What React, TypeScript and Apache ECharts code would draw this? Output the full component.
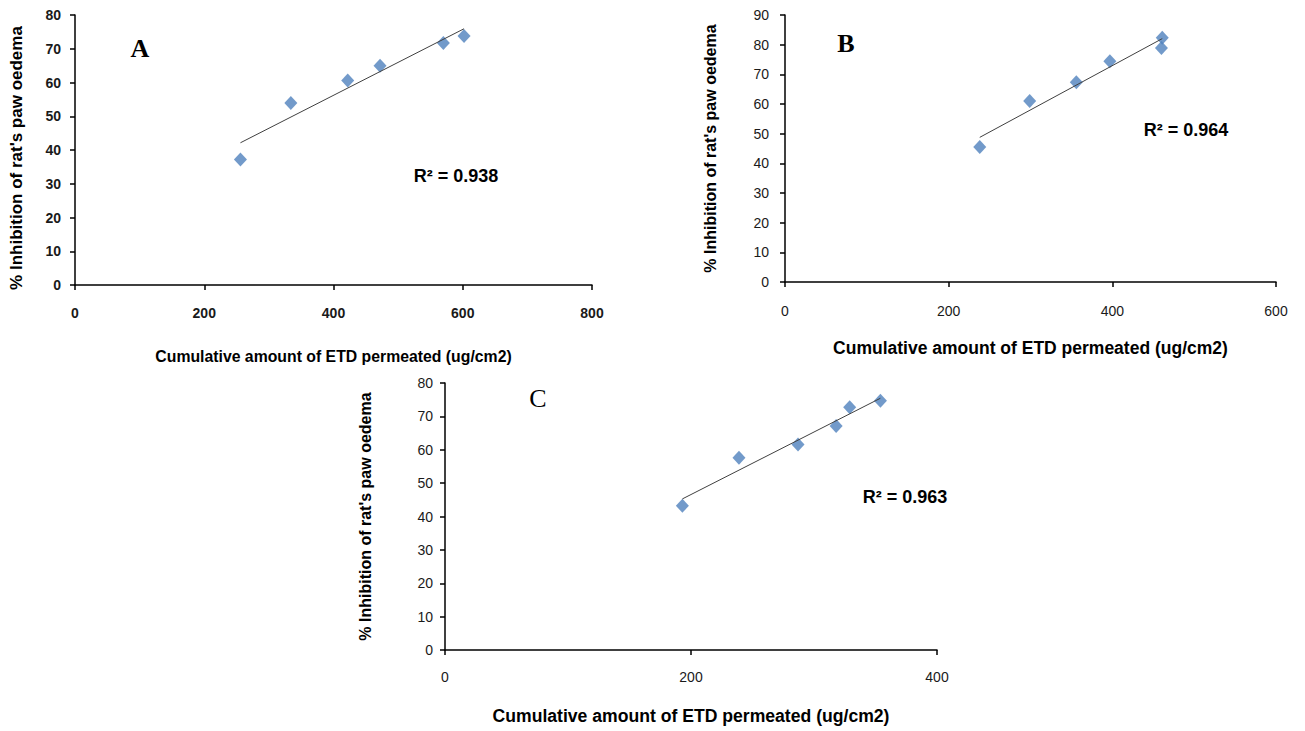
import React, { useEffect, useRef } from "react";
import * as echarts from "echarts";

// Panel A
const xA = [256, 334, 422, 472, 570, 602];
const yA = [37.2, 53.9, 60.6, 65.0, 71.7, 73.8];
// Panel B
const xB = [238, 299, 356, 397, 461, 460];
const yB = [45.5, 61.0, 67.3, 74.4, 82.3, 78.9];
// Panel C
const xC = [193, 239, 287, 318, 329, 354];
const yC = [43.2, 57.6, 61.6, 67.1, 72.7, 74.7];

const panelLetters = ["A", "B", "C"];
const r2Labels = ["R² = 0.938", "R² = 0.964", "R² = 0.963"];
const xMax = [800, 600, 400];
const yMax = [80, 90, 80];
const xInterval = 200;
const yInterval = 10;

const xTitle = "Cumulative amount of ETD permeated (ug/cm2)";
const yTitle = "% Inhibition of rat's paw oedema";

function trend(xs: number[], ys: number[]) {
  const n = xs.length;
  const mx = xs.reduce((a, b) => a + b, 0) / n;
  const my = ys.reduce((a, b) => a + b, 0) / n;
  let sxy = 0;
  let sxx = 0;
  for (let i = 0; i < n; i++) {
    sxy += (xs[i] - mx) * (ys[i] - my);
    sxx += (xs[i] - mx) * (xs[i] - mx);
  }
  const b = sxy / sxx;
  const a = my - b * mx;
  const x0 = Math.min(...xs);
  const x1 = Math.max(...xs);
  return [
    [x0, a + b * x0],
    [x1, a + b * x1],
  ];
}

const FONT = '"Liberation Sans", Arial, sans-serif';

export default function App() {
  const ref = useRef<HTMLDivElement>(null);
  useEffect(() => {
    if (!ref.current) return;
    const chart = echarts.init(ref.current, null, { renderer: "svg" });
    const panels = [
      { xs: xA, ys: yA },
      { xs: xB, ys: yB },
      { xs: xC, ys: yC },
    ];
    const grids = [
      { left: 75, top: 15, width: 517, height: 270 },
      { left: 785, top: 15, width: 491, height: 267 },
      { left: 445, top: 383, width: 492, height: 267 },
    ];
    const xNameGap = [63, 57, 57];
    const xNameSize = [15.8, 17.5, 17.6];
    const yNameGap = [50, 67, 72];
    const yNameSize = [17, 16, 16];
    const yNamePad = [
      [0, 16, 0, 0],
      [0, 0, 0, 0],
      [0, 0, 0, 0],
    ];
    const xLabelMargin = [21, 22, 20];
    const yLabelMargin = [14, 16, 12];
    const tickFont = [14, 14, 14];
    const tickWeight = ["bold", "normal", "normal"];

    const xAxis = grids.map((_, i) => ({
      type: "value",
      gridIndex: i,
      min: 0,
      max: xMax[i],
      interval: xInterval,
      name: xTitle,
      nameLocation: "middle",
      nameGap: xNameGap[i],
      nameTextStyle: {
        fontFamily: FONT,
        fontWeight: "bold",
        fontSize: xNameSize[i],
        color: "#000",
      },
      axisLine: { show: true, onZero: false, lineStyle: { color: "#000", width: 1.5 } },
      axisTick: { show: true, length: 5, lineStyle: { color: "#000", width: 1.5 } },
      splitLine: { show: false },
      axisLabel: {
        color: "#1a1a1a",
        fontFamily: FONT,
        fontSize: tickFont[i],
        fontWeight: tickWeight[i],
        margin: xLabelMargin[i],
      },
    }));
    const yAxis = grids.map((_, i) => ({
      type: "value",
      gridIndex: i,
      min: 0,
      max: yMax[i],
      interval: yInterval,
      name: yTitle,
      nameLocation: "middle",
      nameGap: yNameGap[i],
      nameTextStyle: {
        fontFamily: FONT,
        fontWeight: "bold",
        fontSize: yNameSize[i],
        color: "#000",
        padding: yNamePad[i],
      },
      axisLine: { show: true, onZero: false, lineStyle: { color: "#000", width: 1.5 } },
      axisTick: { show: true, length: 5, lineStyle: { color: "#000", width: 1.5 } },
      splitLine: { show: false },
      axisLabel: {
        color: "#1a1a1a",
        fontFamily: FONT,
        fontSize: tickFont[i],
        fontWeight: tickWeight[i],
        margin: yLabelMargin[i],
      },
    }));
    const series: any[] = [];
    panels.forEach((p, i) => {
      series.push({
        type: "scatter",
        xAxisIndex: i,
        yAxisIndex: i,
        symbol: "diamond",
        symbolSize: [13, 14],
        itemStyle: { color: "#4F81BD" },
        data: p.xs.map((x, k) => [x, p.ys[k]]),
        z: 2,
      });
      series.push({
        type: "line",
        xAxisIndex: i,
        yAxisIndex: i,
        symbol: "none",
        lineStyle: { color: "#404040", width: 1 },
        data: trend(p.xs, p.ys),
        z: 3,
      });
    });
    const letterPos = [
      [140, 48],
      [846, 43],
      [538, 398],
    ];
    const letterWeight = ["bold", "bold", "normal"];
    const r2Pos = [
      [456, 176],
      [1186, 130],
      [905, 497],
    ];
    const graphic: any[] = [];
    panelLetters.forEach((t, i) => {
      graphic.push({
        type: "text",
        x: letterPos[i][0],
        y: letterPos[i][1],
        style: {
          text: t,
          fontFamily: '"Liberation Serif", "Times New Roman", serif',
          fontWeight: letterWeight[i],
          fontSize: 26,
          fill: "#000",
          align: "center",
          verticalAlign: "middle",
        },
      });
      graphic.push({
        type: "text",
        x: r2Pos[i][0],
        y: r2Pos[i][1],
        style: {
          text: r2Labels[i],
          fontFamily: FONT,
          fontWeight: "bold",
          fontSize: 18,
          fill: "#000",
          align: "center",
          verticalAlign: "middle",
        },
      });
    });
    chart.setOption({
      animation: false,
      backgroundColor: "#fff",
      grid: grids,
      xAxis,
      yAxis,
      series,
      graphic,
    });
    return () => chart.dispose();
  }, []);
  return (
    <div
      ref={ref}
      style={{ position: "absolute", left: 0, top: 0, width: 1305, height: 731 }}
    />
  );
}
